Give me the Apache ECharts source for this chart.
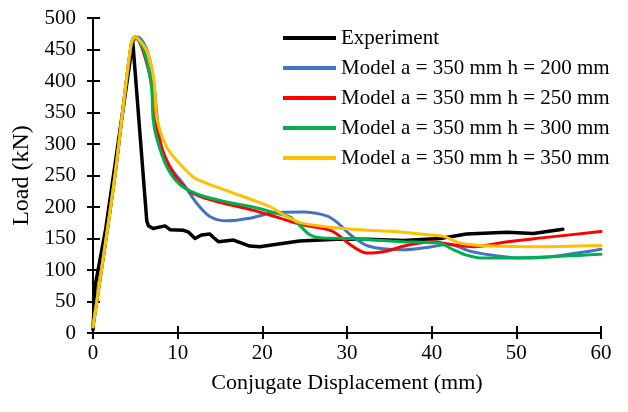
<!DOCTYPE html>
<html>
<head>
<meta charset="utf-8">
<script src="https://cdn.jsdelivr.net/npm/echarts@6/dist/echarts.min.js"></script>
<style>
html,body{margin:0;padding:0;background:#fff;}
#c{width:628px;height:412px;}
</style>
</head>
<body>
<div id="c"></div>
<script>
const seriesNames = ["Experiment", "Model a = 350 mm h = 200 mm", "Model a = 350 mm h = 250 mm", "Model a = 350 mm h = 300 mm", "Model a = 350 mm h = 350 mm"];
const xTicks = [0, 10, 20, 30, 40, 50, 60];
const yTicks = [0, 50, 100, 150, 200, 250, 300, 350, 400, 450, 500];

const experiment = [[0,5],[0.25,75],[1.5,165],[4.7,462],[6.35,178],[6.55,170],[7.1,166],[8.5,170],[9.1,164],[10.7,163],[11.3,160],[12.05,150],[12.8,155.5],[13.8,157],[14.2,152],[14.8,145],[16.6,147.5],[18.5,138],[19.7,137],[21.7,141],[24.4,146],[28.8,149],[32.5,149],[36.6,147],[41,150],[44.1,157],[48.9,160],[52,158],[55.5,164.6]];
const modelH200 = [[0,10],[2.5,240],[4.5,455],[5.3,470],[6,460],[6.6,440],[7.2,395],[7.6,340],[8.2,290],[9.3,260],[10.7,236],[12.25,206],[13.8,185],[15.8,178],[18.5,182],[21,190],[24.8,192],[27.6,186],[28.8,176],[30.4,156],[32.5,138],[36.5,132],[40,137],[42,141],[44.5,130],[48,122],[51,119],[54,121],[60,133]];
const modelH250 = [[0,10],[2.5,240],[4.5,457],[5.0,470],[5.5,462],[6.0,444],[7.0,392],[7.3,338],[8.0,298],[9.5,253],[11.5,224],[13.5,213],[15.4,206],[18.9,195],[21.7,184],[24.6,172],[28.2,162],[30.4,140],[32.3,127],[34.3,129],[37,139],[40,145],[42,141],[45,137],[49,145],[53,151],[60,161]];
const modelH300 = [[0,10],[2.5,240],[4.5,458],[4.9,470],[5.6,460],[6.1,445],[6.9,391],[7.1,340],[7.5,310],[8.7,264],[10.3,235],[12.6,219],[15.8,208],[18.9,200],[21.7,190],[23.3,184],[24.4,171],[25.6,156],[27,151],[30,150],[36.5,145],[41,142],[42.6,132],[44,124],[46,119],[52,120],[60,125]];
const modelH350 = [[0,10],[2.5,240],[4.5,460],[5.0,470],[5.6,463],[6.5,444],[7.2,400],[7.5,345],[8.0,318],[8.7,295],[9.5,280],[10.7,262],[12,246],[13.4,238],[16.2,224],[19.3,209],[21,200],[22.2,190],[23.3,182],[24.8,174],[28.6,167],[32.5,163],[36.5,160],[40.2,155],[41.5,153],[43.3,143],[45,139.7],[47,138],[52,137],[60,139]];

const colors = ["#000000", "#4472C4", "#FF0000", "#00B050", "#FFC000"];
const dataSets = [experiment, modelH200, modelH250, modelH300, modelH350];
const FONT = "'Liberation Serif', 'Times New Roman', serif";

const chart = echarts.init(document.getElementById('c'), null, {renderer: 'canvas'});

const series = dataSets.map((d, i) => ({
  name: seriesNames[i],
  type: 'line',
  data: d,
  xAxisIndex: 0,
  yAxisIndex: 0,
  showSymbol: false,
  symbol: 'none',
  smooth: i === 0 ? false : 0.3,
  lineStyle: {color: colors[i], width: i === 0 ? 3.5 : 3, cap: 'round', join: 'round'},
  itemStyle: {color: colors[i]},
  z: 2 + i
}));
// empty helper series for the overlay grid that carries the inner ticks
series.push({
  type: 'line', xAxisIndex: 1, yAxisIndex: 1, data: [],
  showSymbol: false, symbol: 'none', silent: true
});

const tickStyle = {color: '#000', width: 2};
const gridBox = {left: 93, right: 27, top: 18, bottom: 79, containLabel: false};

chart.setOption({
  animation: false,
  backgroundColor: '#fff',
  grid: [Object.assign({}, gridBox), Object.assign({}, gridBox)],
  legend: {
    orient: 'vertical',
    left: 283,
    top: 27,
    padding: 0,
    icon: 'rect',
    itemWidth: 53,
    itemHeight: 4,
    itemGap: 8,
    data: seriesNames,
    textStyle: {fontFamily: FONT, fontSize: 21, color: '#000', lineHeight: 22}
  },
  xAxis: [{
    type: 'value', gridIndex: 0, min: 0, max: 60, interval: 10, position: 'bottom',
    name: 'Conjugate Displacement (mm)', nameLocation: 'middle', nameGap: 39,
    nameTextStyle: {fontFamily: FONT, fontSize: 22, color: '#000'},
    axisLine: {onZero: false, lineStyle: {color: '#000', width: 2}},
    axisTick: {show: true, inside: false, length: 6, lineStyle: tickStyle},
    axisLabel: {fontFamily: FONT, fontSize: 21, color: '#000', margin: 10},
    splitLine: {show: false}
  }, {
    type: 'value', gridIndex: 1, min: 0, max: 60, interval: 10, position: 'bottom',
    axisLine: {show: true, onZero: false, lineStyle: {color: '#000', width: 2}},
    axisTick: {show: true, inside: true, length: 7, lineStyle: tickStyle},
    axisLabel: {show: false},
    splitLine: {show: false}
  }],
  yAxis: [{
    type: 'value', gridIndex: 0, min: 0, max: 500, interval: 50, position: 'left',
    name: 'Load (kN)', nameLocation: 'middle', nameGap: 58, nameRotate: 90,
    nameTextStyle: {fontFamily: FONT, fontSize: 24, color: '#000'},
    axisLine: {show: true, onZero: false, lineStyle: {color: '#000', width: 2}},
    axisTick: {show: true, inside: false, length: 6, lineStyle: tickStyle},
    axisLabel: {fontFamily: FONT, fontSize: 21, color: '#000', margin: 17},
    splitLine: {show: false}
  }, {
    type: 'value', gridIndex: 1, min: 0, max: 500, interval: 50, position: 'left',
    axisLine: {show: true, onZero: false, lineStyle: {color: '#000', width: 2}},
    axisTick: {show: true, inside: true, length: 7, lineStyle: tickStyle},
    axisLabel: {show: false},
    splitLine: {show: false}
  }],
  series: series
});
</script>
</body>
</html>
